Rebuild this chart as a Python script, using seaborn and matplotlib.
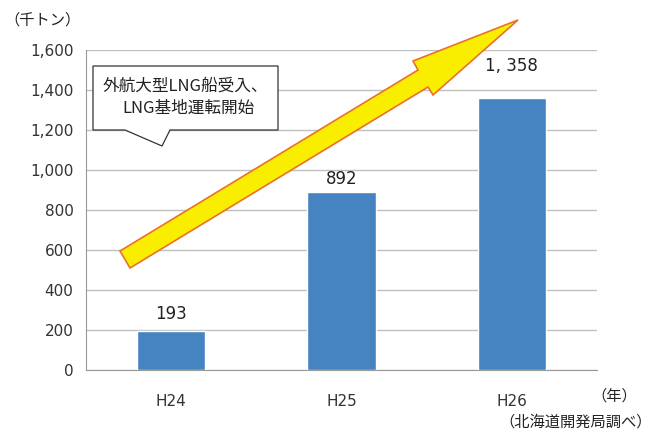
import matplotlib
matplotlib.use("Agg")
import matplotlib.pyplot as plt
from matplotlib.patches import Polygon
import seaborn as sns
import pandas as pd

# data
years = ["H24", "H25", "H26"]
volumes = [193, 892, 1358]
value_labels = ["193", "892", "1, 358"]
label_gap_px = [8, 4, 23]   # gap between bar top and value label, as in the source
y_ticks = [0, 200, 400, 600, 800, 1000, 1200, 1400, 1600]

sns.set_style("white")
plt.rcParams["font.family"] = ["Noto Sans CJK JP", "DejaVu Sans"]

W, H = 653, 434
fig = plt.figure(figsize=(W / 100, H / 100), dpi=100)
ax = fig.add_axes([86 / W, 1 - 370 / H, (597 - 86) / W, (370 - 50) / H])

df = pd.DataFrame({"year": years, "volume": volumes})
sns.barplot(data=df, x="year", y="volume", color="#4583C1", width=0.4,
            saturation=1, ax=ax, zorder=3)

ax.set_xlim(-0.5, 2.5)
ax.set_ylim(0, 1600)
ax.set_yticks(y_ticks)
ax.set_yticklabels([f"{v:,}" for v in y_ticks], family="DejaVu Sans")
for t in ax.get_xticklabels():
    t.set_family("DejaVu Sans")
ax.set_xlabel("")
ax.set_ylabel("")
ax.yaxis.grid(True, color="#BFBFBF", linewidth=1, zorder=0)
ax.set_xticks([-0.5, 0.5, 1.5, 2.5], minor=True)
ax.tick_params(axis="x", which="major", length=0, pad=17, labelsize=11, colors="#333333")
ax.tick_params(axis="x", which="minor", length=5, color="#999999")
ax.tick_params(axis="y", length=5, color="#BFBFBF", labelsize=11, labelcolor="#333333", pad=4)
for s in ["top", "right"]:
    ax.spines[s].set_visible(False)
for s in ["left", "bottom"]:
    ax.spines[s].set_color("#999999")

for i, (v, lab, gap) in enumerate(zip(volumes, value_labels, label_gap_px)):
    ax.annotate(lab, (i, v), xytext=(0, gap * 0.72), textcoords="offset points",
                ha="center", va="bottom", fontsize=12, family="DejaVu Sans",
                color="#222222")

# rising arrow (pixel outline -> figure fraction)
arrow_px = [(120, 251), (418, 70), (413, 61), (518, 20), (433, 95), (428, 87), (130, 268)]
arrow = Polygon([(x / W, 1 - y / H) for x, y in arrow_px], closed=True,
                facecolor="#FAEE00", edgecolor="#E8722A", linewidth=1.2,
                transform=fig.transFigure, zorder=5)
fig.patches.append(arrow)

# callout box
call_px = [(93, 66), (278, 66), (278, 130), (170, 130), (162, 146), (125, 130), (93, 130)]
callout = Polygon([(x / W, 1 - y / H) for x, y in call_px], closed=True,
                  facecolor="white", edgecolor="#333333", linewidth=0.9,
                  transform=fig.transFigure, zorder=6)
fig.patches.append(callout)
fig.text(185 / W, 1 - 86 / H, "外航大型LNG船受入、", ha="center", va="center",
         fontsize=12, color="#222222", zorder=7)
fig.text(188 / W, 1 - 108 / H, "LNG基地運転開始", ha="center", va="center",
         fontsize=12, color="#222222", zorder=7)

fig.text(4 / W, 1 - 20 / H, "（千トン）", ha="left", va="center", fontsize=11, color="#222222")
fig.text(591 / W, 1 - 396 / H, "（年）", ha="left", va="center", fontsize=11, color="#222222")
fig.text(652 / W, 1 - 422 / H, "（北海道開発局調べ）", ha="right", va="center", fontsize=11, color="#222222")

fig.savefig("out.png", dpi=100)
